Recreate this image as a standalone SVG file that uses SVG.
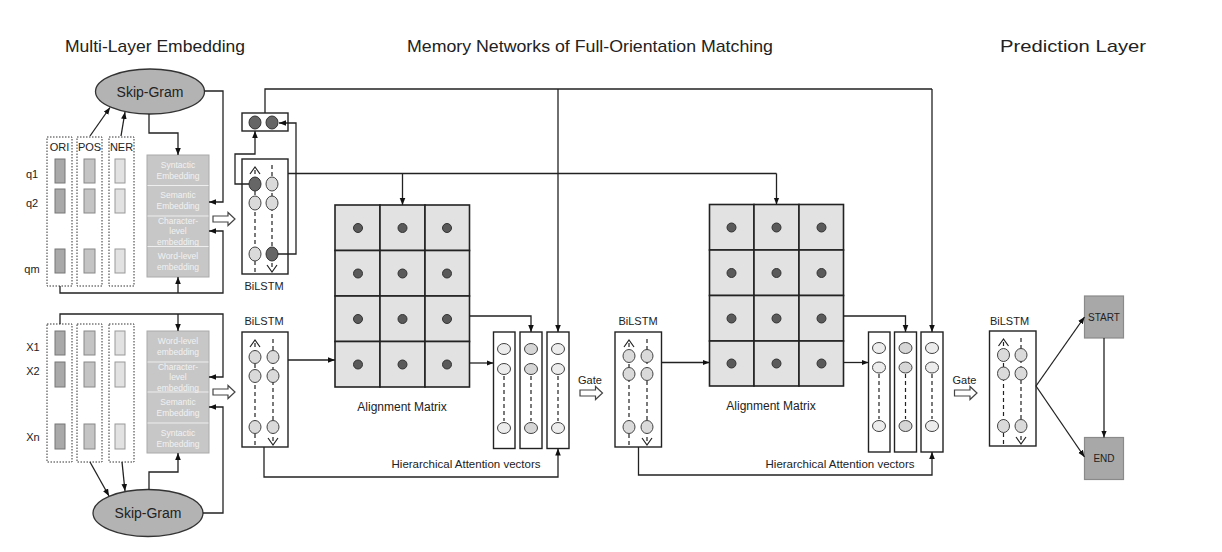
<svg xmlns="http://www.w3.org/2000/svg" width="1222" height="552" viewBox="0 0 1222 552">
<style>
text{font-family:"Liberation Sans",Arial,sans-serif;fill:#222}
.title{font-size:17px}
.lbl{font-size:11px}
.lbl12{font-size:12px}
.hav{font-size:11.5px}
.emb{font-size:8.5px;fill:#f2f2f2;text-anchor:middle}
.dot{fill:none;stroke:#333;stroke-width:1;stroke-dasharray:1.5 1.5}
.tokO{fill:#a9a9a9;stroke:#777;stroke-width:1}
.tokP{fill:#c4c4c4;stroke:#888;stroke-width:1}
.tokN{fill:#e2e2e2;stroke:#999;stroke-width:1}
.stack{fill:#c7c7c7;stroke:#aaa;stroke-width:1}
.sep{stroke:#eee;stroke-width:1}
.sg{fill:#b3b3b3;stroke:#333;stroke-width:1.3}
.box{fill:#fff;stroke:#222;stroke-width:1.4}
.cl{fill:#dadada;stroke:#444;stroke-width:1}
.cd{fill:#666;stroke:#333;stroke-width:1}
.dash{stroke:#222;stroke-width:1.2;stroke-dasharray:4 3;fill:none}
.car{stroke:#222;stroke-width:1.2;fill:none}
.cell{fill:#e2e2e2;stroke:#222;stroke-width:1.6}
.md{fill:#5a5a5a;stroke:#333;stroke-width:1}
.av{fill:#fff;stroke:#222;stroke-width:1.4}
.a1{fill:#ececec;stroke:#444;stroke-width:1}
.a2{fill:#d6d6d6;stroke:#444;stroke-width:1}
.hol{fill:#fff;stroke:#444;stroke-width:1.2}
.out{fill:#a8a8a8;stroke:#8a8a8a;stroke-width:1.2}
.c{fill:none;stroke:#222;stroke-width:1.3}
.ca{fill:none;stroke:#222;stroke-width:1.3;marker-end:url(#ah)}
</style>
<defs>
<marker id="ah" viewBox="0 0 10 10" refX="10" refY="5" markerWidth="7" markerHeight="7" orient="auto" markerUnits="userSpaceOnUse"><path d="M0,1 L10,5 L0,9 z" fill="#111"/></marker>
</defs>

<g id="titles">
<text class="title" x="155" y="52" text-anchor="middle" textLength="180" lengthAdjust="spacingAndGlyphs">Multi-Layer Embedding</text>
<text class="title" x="590" y="52" text-anchor="middle" textLength="366" lengthAdjust="spacingAndGlyphs">Memory Networks of Full-Orientation Matching</text>
<text class="title" x="1073" y="52" text-anchor="middle" textLength="146" lengthAdjust="spacingAndGlyphs">Prediction Layer</text>
</g>

<!-- ===== Question embedding (top) ===== -->
<g id="skipgram-q">
<ellipse class="sg" cx="150" cy="91.5" rx="54.5" ry="22.5"/>
<text x="150" y="96.5" font-size="14" text-anchor="middle">Skip-Gram</text>
</g>
<g id="features-q">
<rect class="dot" x="47" y="137" width="25" height="149"/>
<rect class="dot" x="77" y="137" width="25" height="149"/>
<rect class="dot" x="109" y="137" width="25" height="149"/>
<text class="lbl" x="59.5" y="151" text-anchor="middle">ORI</text>
<text class="lbl" x="89.5" y="151" text-anchor="middle">POS</text>
<text class="lbl" x="121.5" y="151" text-anchor="middle">NER</text>
<rect class="tokO" x="55" y="159" width="10" height="24"/>
<rect class="tokO" x="55" y="189" width="10" height="24"/>
<rect class="tokO" x="55" y="249" width="10" height="24"/>
<rect class="tokP" x="84" y="159" width="11" height="24"/>
<rect class="tokP" x="84" y="189" width="11" height="24"/>
<rect class="tokP" x="84" y="249" width="11" height="24"/>
<rect class="tokN" x="115" y="159" width="10" height="24"/>
<rect class="tokN" x="115" y="189" width="10" height="24"/>
<rect class="tokN" x="115" y="249" width="10" height="24"/>
<text class="lbl" x="32" y="178" text-anchor="middle">q1</text>
<text class="lbl" x="32" y="207" text-anchor="middle">q2</text>
<text class="lbl" x="32" y="273" text-anchor="middle">qm</text>
</g>
<g id="embstack-q">
<rect class="stack" x="147" y="155" width="62" height="122"/>
<line class="sep" x1="147.5" y1="185.5" x2="208.5" y2="185.5"/>
<line class="sep" x1="147.5" y1="216" x2="208.5" y2="216"/>
<line class="sep" x1="147.5" y1="246.5" x2="208.5" y2="246.5"/>
<text class="emb" x="178" y="168">Syntactic</text><text class="emb" x="178" y="179">Embedding</text>
<text class="emb" x="178" y="198">Semantic</text><text class="emb" x="178" y="209">Embedding</text>
<text class="emb" x="178" y="224">Character-</text><text class="emb" x="178" y="234">level</text><text class="emb" x="178" y="244.5">embedding</text>
<text class="emb" x="178" y="259">Word-level</text><text class="emb" x="178" y="270">embedding</text>
</g>
<path id="hollow-q" class="hol" d="M213,216 H228 V212.5 L235,219 L228,225.5 V222 H213 Z"/>

<!-- ===== Passage embedding (bottom) ===== -->
<g id="skipgram-p">
<ellipse class="sg" cx="148" cy="513" rx="55" ry="23.5"/>
<text x="148" y="518" font-size="14" text-anchor="middle">Skip-Gram</text>
</g>
<g id="features-p">
<rect class="dot" x="47" y="324" width="25" height="138"/>
<rect class="dot" x="77" y="324" width="25" height="138"/>
<rect class="dot" x="109" y="324" width="25" height="138"/>
<rect class="tokO" x="55" y="331" width="10" height="24"/>
<rect class="tokO" x="55" y="362" width="10" height="25"/>
<rect class="tokO" x="55" y="424" width="10" height="25"/>
<rect class="tokP" x="84" y="331" width="11" height="24"/>
<rect class="tokP" x="84" y="362" width="11" height="25"/>
<rect class="tokP" x="84" y="424" width="11" height="25"/>
<rect class="tokN" x="115" y="331" width="10" height="24"/>
<rect class="tokN" x="115" y="362" width="10" height="25"/>
<rect class="tokN" x="115" y="424" width="10" height="25"/>
<text class="lbl" x="33" y="351" text-anchor="middle">X1</text>
<text class="lbl" x="33" y="375" text-anchor="middle">X2</text>
<text class="lbl" x="33" y="441" text-anchor="middle">Xn</text>
</g>
<g id="embstack-p">
<rect class="stack" x="147" y="331" width="62" height="122"/>
<line class="sep" x1="147.5" y1="362" x2="208.5" y2="362"/>
<line class="sep" x1="147.5" y1="392" x2="208.5" y2="392"/>
<line class="sep" x1="147.5" y1="423" x2="208.5" y2="423"/>
<text class="emb" x="178" y="344">Word-level</text><text class="emb" x="178" y="355">embedding</text>
<text class="emb" x="178" y="370">Character-</text><text class="emb" x="178" y="380">level</text><text class="emb" x="178" y="390.5">embedding</text>
<text class="emb" x="178" y="405">Semantic</text><text class="emb" x="178" y="416">Embedding</text>
<text class="emb" x="178" y="436">Syntactic</text><text class="emb" x="178" y="447">Embedding</text>
</g>
<path id="hollow-p" class="hol" d="M213,389 H228 V385.5 L235,392 L228,398.5 V395 H213 Z"/>

<!-- ===== BiLSTM question ===== -->
<g id="bilstm-q">
<rect class="box" x="242" y="159" width="46" height="115"/>
<line class="dash" x1="255" y1="170" x2="255" y2="272"/>
<line class="dash" x1="272" y1="165" x2="272" y2="270"/>
<polyline class="car" points="250,174 255,167 260,174"/>
<polyline class="car" points="267,265 272,272 277,265"/>
<ellipse class="cd" cx="255" cy="184" rx="6" ry="7"/>
<ellipse class="cl" cx="272" cy="184" rx="6" ry="7"/>
<ellipse class="cl" cx="255" cy="203" rx="6" ry="7"/>
<ellipse class="cl" cx="272" cy="203" rx="6" ry="7"/>
<ellipse class="cl" cx="255" cy="254" rx="6" ry="7"/>
<ellipse class="cd" cx="272" cy="254" rx="6" ry="7"/>
<text class="lbl" x="264" y="290" text-anchor="middle">BiLSTM</text>
</g>
<g id="qvec">
<rect class="box" x="242" y="113" width="46" height="18"/>
<ellipse class="cd" cx="255" cy="122.5" rx="6" ry="6.5"/>
<ellipse class="cd" cx="272" cy="122.5" rx="6" ry="6.5"/>
</g>

<!-- ===== BiLSTM passage ===== -->
<g id="bilstm-p">
<rect class="box" x="242" y="332" width="46" height="115"/>
<line class="dash" x1="255" y1="343" x2="255" y2="445"/>
<line class="dash" x1="273" y1="339" x2="273" y2="443"/>
<polyline class="car" points="250,347 255,340 260,347"/>
<polyline class="car" points="268,438 273,445 278,438"/>
<ellipse class="cl" cx="255" cy="357" rx="6" ry="6.5"/>
<ellipse class="cl" cx="273" cy="357" rx="6" ry="6.5"/>
<ellipse class="cl" cx="255" cy="376" rx="6" ry="6.5"/>
<ellipse class="cl" cx="273" cy="376" rx="6" ry="6.5"/>
<ellipse class="cl" cx="255" cy="427" rx="6" ry="6.5"/>
<ellipse class="cl" cx="273" cy="427" rx="6" ry="6.5"/>
<text class="lbl" x="264" y="325" text-anchor="middle">BiLSTM</text>
</g>

<!-- ===== Alignment matrix 1 ===== -->
<g id="matrix1">
<rect class="cell" x="335" y="205" width="45" height="45.5"/><rect class="cell" x="380" y="205" width="45" height="45.5"/><rect class="cell" x="425" y="205" width="44.5" height="45.5"/>
<rect class="cell" x="335" y="250.5" width="45" height="45.5"/><rect class="cell" x="380" y="250.5" width="45" height="45.5"/><rect class="cell" x="425" y="250.5" width="44.5" height="45.5"/>
<rect class="cell" x="335" y="296" width="45" height="45.5"/><rect class="cell" x="380" y="296" width="45" height="45.5"/><rect class="cell" x="425" y="296" width="44.5" height="45.5"/>
<rect class="cell" x="335" y="341.5" width="45" height="45.5"/><rect class="cell" x="380" y="341.5" width="45" height="45.5"/><rect class="cell" x="425" y="341.5" width="44.5" height="45.5"/>
<circle class="md" cx="358" cy="228" r="4.5"/><circle class="md" cx="402.5" cy="228" r="4.5"/><circle class="md" cx="447" cy="228" r="4.5"/>
<circle class="md" cx="358" cy="273.5" r="4.5"/><circle class="md" cx="402.5" cy="273.5" r="4.5"/><circle class="md" cx="447" cy="273.5" r="4.5"/>
<circle class="md" cx="358" cy="319" r="4.5"/><circle class="md" cx="402.5" cy="319" r="4.5"/><circle class="md" cx="447" cy="319" r="4.5"/>
<circle class="md" cx="358" cy="364.5" r="4.5"/><circle class="md" cx="402.5" cy="364.5" r="4.5"/><circle class="md" cx="447" cy="364.5" r="4.5"/>
<text class="lbl12" x="402" y="411" text-anchor="middle">Alignment Matrix</text>
</g>

<!-- ===== Attention vectors 1 ===== -->
<g id="attn1">
<rect class="av" x="493.5" y="332" width="21.5" height="116.5"/>
<rect class="av" x="520" y="332" width="22" height="116.5"/>
<rect class="av" x="547" y="332" width="22" height="116.5"/>
<line class="dash" x1="504" y1="376" x2="504" y2="421"/>
<line class="dash" x1="531" y1="376" x2="531" y2="421"/>
<line class="dash" x1="558" y1="376" x2="558" y2="421"/>
<ellipse class="a1" cx="504" cy="349" rx="6.5" ry="5.5"/><ellipse class="a1" cx="504" cy="369" rx="6.5" ry="5.5"/><ellipse class="a1" cx="504" cy="428" rx="6.5" ry="5.5"/>
<ellipse class="a2" cx="531" cy="349" rx="6.5" ry="5.5"/><ellipse class="a2" cx="531" cy="369" rx="6.5" ry="5.5"/><ellipse class="a2" cx="531" cy="428" rx="6.5" ry="5.5"/>
<ellipse class="a1" cx="558" cy="349" rx="6.5" ry="5.5"/><ellipse class="a1" cx="558" cy="369" rx="6.5" ry="5.5"/><ellipse class="a1" cx="558" cy="428" rx="6.5" ry="5.5"/>
<text class="hav" x="466" y="468" text-anchor="middle">Hierarchical Attention vectors</text>
</g>
<g id="gate1">
<text class="lbl" x="590" y="384" text-anchor="middle">Gate</text>
<path class="hol" d="M580,390 H595.5 V386.5 L602.5,393 L595.5,399.5 V396 H580 Z"/>
</g>

<!-- ===== BiLSTM middle ===== -->
<g id="bilstm-m">
<rect class="box" x="615" y="332" width="46.5" height="115"/>
<line class="dash" x1="629" y1="343" x2="629" y2="445"/>
<line class="dash" x1="647" y1="339" x2="647" y2="443"/>
<polyline class="car" points="624,347 629,340 634,347"/>
<polyline class="car" points="642,438 647,445 652,438"/>
<ellipse class="cl" cx="629" cy="356" rx="6" ry="6.5"/>
<ellipse class="cl" cx="647" cy="356" rx="6" ry="6.5"/>
<ellipse class="cl" cx="629" cy="374" rx="6" ry="6.5"/>
<ellipse class="cl" cx="647" cy="374" rx="6" ry="6.5"/>
<ellipse class="cl" cx="629" cy="427" rx="6" ry="6.5"/>
<ellipse class="cl" cx="647" cy="427" rx="6" ry="6.5"/>
<text class="lbl" x="638" y="325" text-anchor="middle">BiLSTM</text>
</g>

<!-- ===== Alignment matrix 2 ===== -->
<g id="matrix2">
<rect class="cell" x="709.5" y="204.5" width="44.5" height="45.5"/><rect class="cell" x="754" y="204.5" width="45" height="45.5"/><rect class="cell" x="799" y="204.5" width="44.5" height="45.5"/>
<rect class="cell" x="709.5" y="250" width="44.5" height="45.5"/><rect class="cell" x="754" y="250" width="45" height="45.5"/><rect class="cell" x="799" y="250" width="44.5" height="45.5"/>
<rect class="cell" x="709.5" y="295.5" width="44.5" height="45.5"/><rect class="cell" x="754" y="295.5" width="45" height="45.5"/><rect class="cell" x="799" y="295.5" width="44.5" height="45.5"/>
<rect class="cell" x="709.5" y="341" width="44.5" height="45"/><rect class="cell" x="754" y="341" width="45" height="45"/><rect class="cell" x="799" y="341" width="44.5" height="45"/>
<circle class="md" cx="731.5" cy="227.5" r="4.5"/><circle class="md" cx="776.5" cy="227.5" r="4.5"/><circle class="md" cx="821.5" cy="227.5" r="4.5"/>
<circle class="md" cx="731.5" cy="273" r="4.5"/><circle class="md" cx="776.5" cy="273" r="4.5"/><circle class="md" cx="821.5" cy="273" r="4.5"/>
<circle class="md" cx="731.5" cy="318.5" r="4.5"/><circle class="md" cx="776.5" cy="318.5" r="4.5"/><circle class="md" cx="821.5" cy="318.5" r="4.5"/>
<circle class="md" cx="731.5" cy="363.5" r="4.5"/><circle class="md" cx="776.5" cy="363.5" r="4.5"/><circle class="md" cx="821.5" cy="363.5" r="4.5"/>
<text class="lbl12" x="771" y="410" text-anchor="middle">Alignment Matrix</text>
</g>

<!-- ===== Attention vectors 2 ===== -->
<g id="attn2">
<rect class="av" x="868.5" y="332" width="21.5" height="120"/>
<rect class="av" x="894.5" y="332" width="22" height="120"/>
<rect class="av" x="921" y="332" width="22" height="120"/>
<line class="dash" x1="879" y1="374" x2="879" y2="419"/>
<line class="dash" x1="905.5" y1="374" x2="905.5" y2="419"/>
<line class="dash" x1="932" y1="374" x2="932" y2="419"/>
<ellipse class="a1" cx="879" cy="348" rx="6.5" ry="5.5"/><ellipse class="a1" cx="879" cy="367.5" rx="6.5" ry="5.5"/><ellipse class="a1" cx="879" cy="426" rx="6.5" ry="5.5"/>
<ellipse class="a2" cx="905.5" cy="348" rx="6.5" ry="5.5"/><ellipse class="a2" cx="905.5" cy="367.5" rx="6.5" ry="5.5"/><ellipse class="a2" cx="905.5" cy="426" rx="6.5" ry="5.5"/>
<ellipse class="a1" cx="932" cy="348" rx="6.5" ry="5.5"/><ellipse class="a1" cx="932" cy="367.5" rx="6.5" ry="5.5"/><ellipse class="a1" cx="932" cy="426" rx="6.5" ry="5.5"/>
<text class="hav" x="840" y="468" text-anchor="middle">Hierarchical Attention vectors</text>
</g>
<g id="gate2">
<text class="lbl" x="964.5" y="384" text-anchor="middle">Gate</text>
<path class="hol" d="M954.5,390 H970 V386.5 L977,393 L970,399.5 V396 H954.5 Z"/>
</g>

<!-- ===== Final BiLSTM ===== -->
<g id="bilstm-f">
<rect class="box" x="989.5" y="331" width="46.5" height="115"/>
<line class="dash" x1="1003.5" y1="342" x2="1003.5" y2="444"/>
<line class="dash" x1="1021" y1="338" x2="1021" y2="442"/>
<polyline class="car" points="998.5,346 1003.5,339 1008.5,346"/>
<polyline class="car" points="1016,437 1021,444 1026,437"/>
<ellipse class="cl" cx="1003.5" cy="355" rx="6" ry="6.5"/>
<ellipse class="cl" cx="1021" cy="355" rx="6" ry="6.5"/>
<ellipse class="cl" cx="1003.5" cy="373.5" rx="6" ry="6.5"/>
<ellipse class="cl" cx="1021" cy="373.5" rx="6" ry="6.5"/>
<ellipse class="cl" cx="1003.5" cy="426" rx="6" ry="6.5"/>
<ellipse class="cl" cx="1021" cy="426" rx="6" ry="6.5"/>
<text class="lbl" x="1009.5" y="325" text-anchor="middle">BiLSTM</text>
</g>
<g id="start">
<rect class="out" x="1084.5" y="296" width="39" height="42"/>
<text x="1104" y="320.5" font-size="10" text-anchor="middle">START</text>
</g>
<g id="end">
<rect class="out" x="1084.5" y="437.5" width="39" height="42"/>
<text x="1104" y="462" font-size="10" text-anchor="middle">END</text>
</g>

<!-- ===== Connectors ===== -->
<g id="connectors">
<path class="ca" d="M90,136 L110,107.5"/>
<path class="ca" d="M121,136 L125,112"/>
<path class="ca" d="M149,114 V133 H178 V155"/>
<path class="ca" d="M204.5,91 H223 V202 H209"/>
<path class="ca" d="M60,286 V293 H223 V231 H209"/>
<path class="ca" d="M178,293 V277"/>
<path class="ca" d="M90,462 L109,496"/>
<path class="ca" d="M122,462 L125,491"/>
<path class="ca" d="M149,489.5 V472 H178 V453"/>
<path class="ca" d="M203,513 H223 V407 H209"/>
<path class="ca" d="M60,324 V314 H223 V377 H209"/>
<path class="ca" d="M178,314 V331"/>
<path class="ca" d="M249,184 H235 V154 H255 V131"/>
<path class="ca" d="M278,254 H296 V123 H279"/>
<path class="c" d="M265,113 V89 H932"/>
<path class="ca" d="M558,89 V332"/>
<path class="ca" d="M932,89 V332"/>
<path class="c" d="M288,173.5 H776.5"/>
<path class="ca" d="M402.5,173.5 V205"/>
<path class="ca" d="M776.5,173.5 V204.5"/>
<path class="ca" d="M288,360 H335"/>
<path class="ca" d="M469.5,316 H531 V332"/>
<path class="ca" d="M469.5,363 H493.5"/>
<path class="ca" d="M264,447 V477 H558 V448.5"/>
<path class="ca" d="M661.5,362.5 H709.5"/>
<path class="ca" d="M843.5,316 H905.5 V332"/>
<path class="ca" d="M843.5,362.5 H868.5"/>
<path class="ca" d="M638.5,447 V475 H932 V452"/>
<path class="ca" d="M1036,386 L1084.5,317"/>
<path class="ca" d="M1036,386 L1084.5,457"/>
<path class="ca" d="M1104,338 V437.5"/>
</g>
</svg>
